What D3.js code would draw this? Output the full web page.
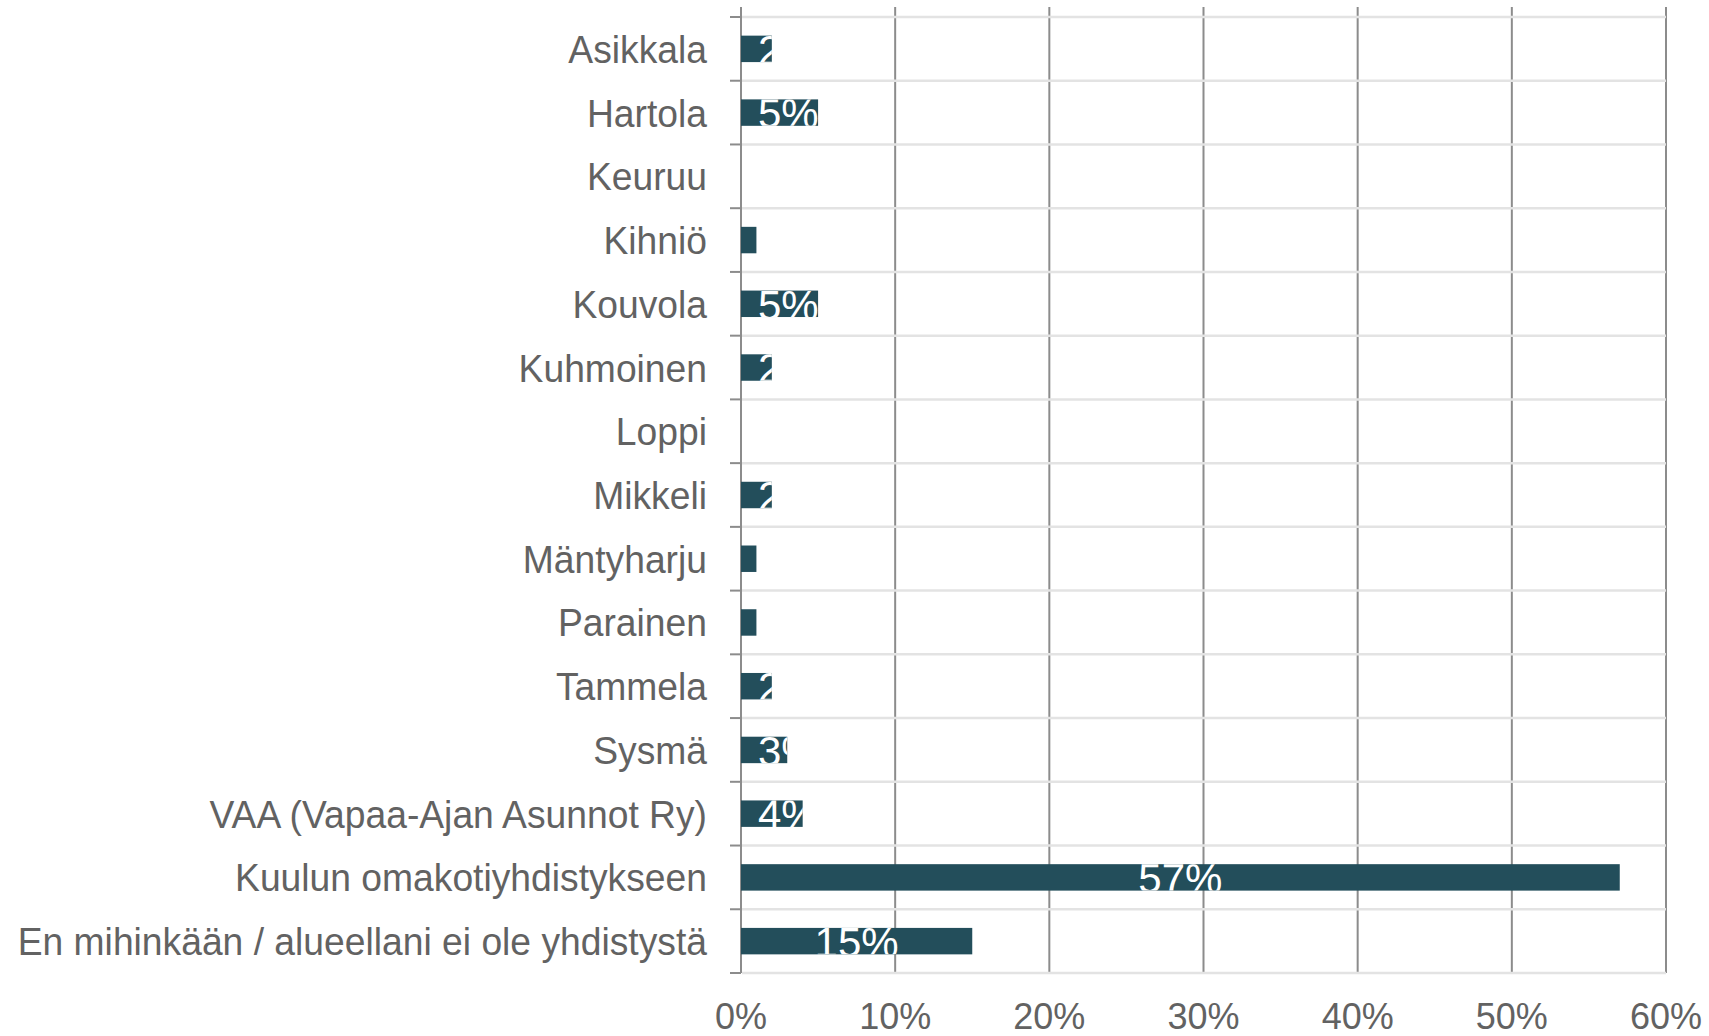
<!DOCTYPE html>
<html>
<head>
<meta charset="utf-8">
<script src="https://cdn.jsdelivr.net/npm/d3@7"></script>
<style>
  html, body { margin: 0; padding: 0; background: #fff; }
  svg { display: block; }
</style>
</head>
<body>
<svg id="chart" width="1709" height="1036"></svg>
<script>
const categories = [
  "Asikkala", "Hartola", "Keuruu", "Kihniö", "Kouvola", "Kuhmoinen", "Loppi",
  "Mikkeli", "Mäntyharju", "Parainen", "Tammela", "Sysmä",
  "VAA (Vapaa-Ajan Asunnot Ry)", "Kuulun omakotiyhdistykseen",
  "En mihinkään / alueellani ei ole yhdistystä"
];
const values = [2, 5, 0, 1, 5, 2, 0, 2, 1, 1, 2, 3, 4, 57, 15];
const xTicks = [0, 10, 20, 30, 40, 50, 60];
const xTickLabels = ["0%", "10%", "20%", "30%", "40%", "50%", "60%"];

(function () {
const svg = d3.select("#chart");
const pLeft = 741, pRight = 1666, pTop = 17, pBottom = 973;
const barColor = "#234e5b";
const textColor = "#626262";

const x = d3.scaleLinear().domain([0, 60]).range([pLeft, pRight]);
const y = d3.scaleBand().domain(categories).range([pTop, pBottom])
  .paddingInner(0.585).paddingOuter(0.2925);
const step = y.step();

// vertical gridlines
svg.append("g").selectAll("line").data(xTicks).join("line")
  .attr("x1", d => x(d)).attr("x2", d => x(d))
  .attr("y1", 7).attr("y2", pBottom)
  .attr("stroke", "#8c8c8c").attr("stroke-width", 2);

// horizontal gridlines at row boundaries
const bounds = d3.range(categories.length + 1).map(i => pTop + i * step);
svg.append("g").selectAll("line").data(bounds).join("line")
  .attr("x1", pLeft + 1).attr("x2", pRight)
  .attr("y1", d => d).attr("y2", d => d)
  .attr("stroke", "#e3e3e3").attr("stroke-width", 2.5);
// tick marks to the left
svg.append("g").selectAll("line").data(bounds).join("line")
  .attr("x1", pLeft - 11).attr("x2", pLeft)
  .attr("y1", d => d).attr("y2", d => d)
  .attr("stroke", "#8c8c8c").attr("stroke-width", 2);
// left axis line
svg.append("line").attr("x1", pLeft).attr("x2", pLeft).attr("y1", 7).attr("y2", pBottom)
  .attr("stroke", "#8c8c8c").attr("stroke-width", 2);

// bars
const defs = svg.append("defs");
categories.forEach((c, i) => {
  defs.append("clipPath").attr("id", "clip" + i)
    .append("rect")
    .attr("x", x(0)).attr("y", y(c))
    .attr("width", Math.max(0, x(values[i]) - x(0)))
    .attr("height", y.bandwidth());
});

svg.append("g").selectAll("rect").data(categories).join("rect")
  .attr("x", x(0))
  .attr("y", d => y(d))
  .attr("width", (d, i) => Math.max(0, x(values[i]) - x(0)))
  .attr("height", y.bandwidth())
  .attr("fill", barColor);

// bar labels (clipped to bar)
const lblG = svg.append("g");
categories.forEach((c, i) => {
  if (values[i] <= 0) return;
  const g = lblG.append("g").attr("clip-path", "url(#clip" + i + ")");
  const t = g.append("text")
    .attr("font-family", "Liberation Sans, Arial, sans-serif")
    .attr("font-size", 42)
    .attr("fill", "#ffffff")
    .attr("y", y(c) + 29)
    .text(values[i] + "%");
  const w = t.node().getComputedTextLength();
  const cx = (x(0) + x(values[i])) / 2;
  t.attr("x", Math.max(cx - w / 2, x(0) + 17));
});

// category labels
svg.append("g").selectAll("text").data(categories).join("text")
  .attr("transform", d => `translate(707,${y(d) + y.bandwidth() / 2 + 14}) scale(0.955,1)`)
  .attr("text-anchor", "end")
  .attr("font-family", "Liberation Sans, Arial, sans-serif")
  .attr("font-size", 39)
  .attr("fill", textColor)
  .text(d => d);

// x tick labels
svg.append("g").selectAll("text").data(xTicks).join("text")
  .attr("x", d => x(d))
  .attr("y", 1029)
  .attr("text-anchor", "middle")
  .attr("font-family", "Liberation Sans, Arial, sans-serif")
  .attr("font-size", 36)
  .attr("fill", textColor)
  .text((d, i) => xTickLabels[i]);
})();
</script>
</body>
</html>
